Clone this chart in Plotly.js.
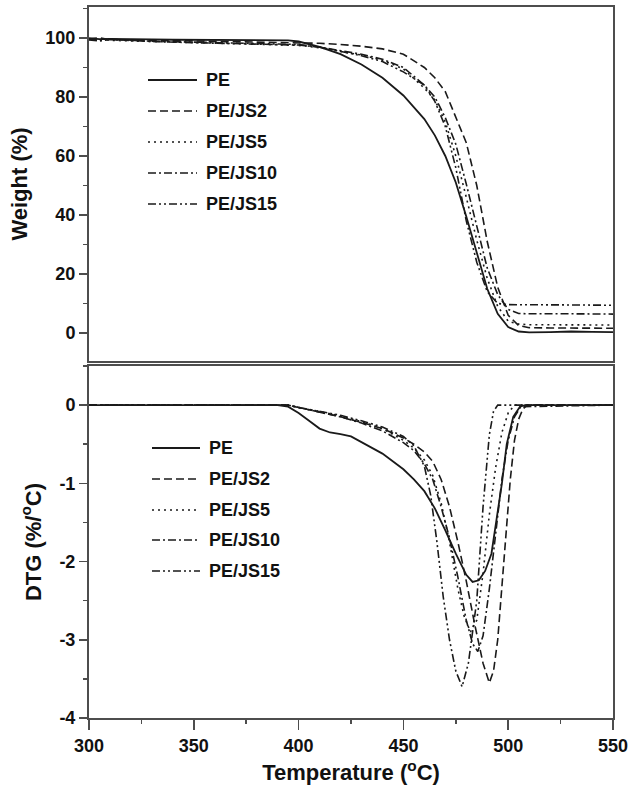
<!DOCTYPE html>
<html>
<head>
<meta charset="utf-8">
<script src="https://cdn.plot.ly/plotly-3.0.1.min.js"></script>
<style>html,body{margin:0;padding:0;background:#fff;}#chart{width:630px;height:789px;}</style>
</head>
<body>
<div id="chart"></div>
<script>
// ---------- DATA ----------
const seriesNames = ['PE', 'PE/JS2', 'PE/JS5', 'PE/JS10', 'PE/JS15'];

// TGA: temperature (°C) and weight (%)
const tgaT_PE   = [300,305,310,320,330,340,350,360,370,380,390,395,400,405,410,420,430,440,450,460,465,470,475,480,485,490,495,500,505,510,520,530,540,550];
const tgaW_PE   = [99.9,99.6,99.7,99.5,99.5,99.4,99.4,99.3,99.3,99.3,99.2,99.2,98.8,98.0,97.0,94.5,91.0,86.5,80.5,72.5,67.0,60.0,51.0,39.5,27.0,15.0,6.5,2.0,0.5,0.2,0.3,0.5,0.4,0.3];
const tgaT_JS2  = [300,305,310,320,330,350,370,390,400,410,420,430,440,450,460,465,470,475,480,485,490,495,500,505,510,520,535,550];
const tgaW_JS2  = [99.6,100.1,99.4,99.2,99.1,99.0,98.8,98.6,98.4,98.2,97.8,97.2,96.3,94.5,90.0,86.5,81.8,73.0,64.5,50.0,31.0,15.5,6.0,2.5,1.8,1.7,1.6,1.6];
const tgaT_JS5  = [300,305,310,320,330,350,370,390,400,410,420,430,440,450,460,465,470,475,480,485,490,495,500,505,510,530,550];
const tgaW_JS5  = [99.5,99.8,99.2,99.0,98.8,98.4,98.1,97.8,97.5,96.7,95.5,94.2,92.5,89.5,83.0,79.0,71.5,60.0,46.0,31.5,18.5,9.0,4.0,3.0,2.8,2.8,2.7];
const tgaT_JS10 = [300,305,310,320,330,350,370,390,400,410,420,430,440,450,460,465,470,475,480,485,490,495,500,505,510,530,550];
const tgaW_JS10 = [99.3,99.0,99.5,99.1,98.8,98.4,98.1,97.9,97.6,96.9,95.8,94.5,92.8,90.0,84.0,80.0,73.0,64.0,50.5,36.0,22.0,13.0,8.0,6.6,6.5,6.5,6.4];
const tgaT_JS15 = [300,305,310,320,330,350,370,390,400,410,420,430,440,450,460,465,470,475,480,485,490,495,500,510,530,550];
const tgaW_JS15 = [99.7,99.2,99.6,99.2,98.9,98.6,98.3,98.0,97.8,96.9,95.5,94.0,92.0,88.5,84.0,78.5,70.0,56.0,38.0,24.0,14.0,10.0,9.6,9.5,9.5,9.4];

// DTG: temperature (°C) and derivative weight (%/°C)
const dtgT_PE   = [300,390,395,400,405,410,415,420,425,430,440,450,455,460,465,470,475,480,483,486,489,492,494.5,497,499.3,502.4,505.6,508,550];
const dtgD_PE   = [0,0,-0.02,-0.1,-0.2,-0.3,-0.35,-0.37,-0.4,-0.47,-0.62,-0.82,-0.95,-1.1,-1.32,-1.6,-1.9,-2.17,-2.26,-2.24,-2.12,-1.9,-1.47,-1.0,-0.5,-0.15,-0.02,0,0];
const dtgT_JS2  = [300,395,400,410,420,430,440,450,455,460,464,468,472,476,480,484,488,491,493,495,497,499,501,503,505,507,509,550];
const dtgD_JS2  = [0,0,-0.03,-0.09,-0.15,-0.22,-0.3,-0.42,-0.5,-0.6,-0.72,-0.95,-1.3,-1.75,-2.25,-2.8,-3.3,-3.55,-3.4,-3.0,-2.3,-1.6,-0.95,-0.45,-0.18,-0.05,0,0];
const dtgT_JS5  = [300,395,400,410,420,430,440,450,455,460,464,468,472,476,479,482,485,488,491,494,497,500,503,550];
const dtgD_JS5  = [0,0,-0.03,-0.08,-0.14,-0.21,-0.3,-0.45,-0.55,-0.7,-0.9,-1.25,-1.75,-2.35,-2.7,-2.9,-2.75,-2.15,-1.4,-0.8,-0.35,-0.1,0,0];
const dtgT_JS10 = [300,395,400,410,420,430,440,450,455,460,464,468,472,476,480,483,485.5,488,491,494,497,500,503,506,550];
const dtgD_JS10 = [0,0,-0.03,-0.09,-0.15,-0.23,-0.33,-0.48,-0.58,-0.75,-0.95,-1.3,-1.7,-2.2,-2.75,-3.05,-3.15,-2.95,-2.35,-1.65,-0.95,-0.45,-0.15,-0.02,0];
const dtgT_JS15 = [300,395,400,410,420,430,440,450,455,460,463,466,469,472,475,478,481,485,488,491,493,495,550];
const dtgD_JS15 = [0,0,-0.03,-0.08,-0.13,-0.2,-0.28,-0.4,-0.52,-0.78,-1.15,-1.75,-2.45,-3.0,-3.4,-3.6,-3.3,-2.5,-1.3,-0.38,-0.08,0,0];

// tick labels (hyphen minus as in the original figure)
const weightTicks = [0, 20, 40, 60, 80, 100];
const weightTickText = ['0', '20', '40', '60', '80', '100'];
const dtgTicks = [-4, -3, -2, -1, 0];
const dtgTickText = ['-4', '-3', '-2', '-1', '0'];
const tempTicks = [300, 350, 400, 450, 500, 550];
const tempTickText = ['300', '350', '400', '450', '500', '550'];

// ---------- STYLE ----------
const lineColor = '#1a1a1a';
const dashes = ['solid', '8px,4px', '2px,4px', '8px,3px,2px,3px', '8px,3px,2px,3px,2px,3px'];
const widths = [1.8, 1.6, 1.6, 1.6, 1.6];
const FONT = 'Liberation Sans, Arial, Helvetica, sans-serif';
const frame = '#4d4d4d';

const tgaX = [tgaT_PE, tgaT_JS2, tgaT_JS5, tgaT_JS10, tgaT_JS15];
const tgaY = [tgaW_PE, tgaW_JS2, tgaW_JS5, tgaW_JS10, tgaW_JS15];
const dtgX = [dtgT_PE, dtgT_JS2, dtgT_JS5, dtgT_JS10, dtgT_JS15];
const dtgY = [dtgD_PE, dtgD_JS2, dtgD_JS5, dtgD_JS10, dtgD_JS15];

const traces = [];
seriesNames.forEach((n, i) => {
  traces.push({x: tgaX[i], y: tgaY[i], name: n, type: 'scatter', mode: 'lines', xaxis: 'x2', yaxis: 'y',
    line: {color: lineColor, width: widths[i], dash: dashes[i]}, showlegend: false, hoverinfo: 'skip'});
});
seriesNames.forEach((n, i) => {
  traces.push({x: dtgX[i], y: dtgY[i], name: n, type: 'scatter', mode: 'lines', xaxis: 'x', yaxis: 'y2',
    line: {color: lineColor, width: widths[i], dash: dashes[i]}, showlegend: false, hoverinfo: 'skip'});
});

// pixel -> paper helpers (plot area spans x 89..613, y 7..718)
const PL = 89, PR = 613, PT = 7, PB = 718;
const fx = p => (p - PL) / (PR - PL);
const fy = p => (PB - p) / (PB - PT);

// manual legends (one per panel)
const shapes = [], annotations = [];
function addLegend(rows, x0, x1, xt) {
  rows.forEach((yy, i) => {
    shapes.push({type: 'line', xref: 'paper', yref: 'paper', x0: fx(x0), x1: fx(x1), y0: fy(yy), y1: fy(yy),
      line: {color: lineColor, width: widths[i], dash: dashes[i]}});
    annotations.push({xref: 'paper', yref: 'paper', x: fx(xt), y: fy(yy), xanchor: 'left', yanchor: 'middle',
      text: seriesNames[i], showarrow: false, font: {family: FONT, size: 18, color: '#111', weight: 700}});
  });
}
addLegend([80, 111, 142, 173, 204], 148, 197, 204);
addLegend([448, 479, 510, 540, 571], 152, 200, 207);

const tickFont = {family: FONT, size: 18, color: '#111', weight: 700};
const titleFont = {family: FONT, size: 22, color: '#111', weight: 700};
const splitTop = fy(361), splitBot = fy(366);

const layout = {
  width: 630, height: 789,
  margin: {l: PL, r: 630 - PR, t: PT, b: 789 - PB, pad: 0},
  paper_bgcolor: '#fff', plot_bgcolor: '#fff',
  showlegend: false,
  font: {family: FONT, color: '#111'},
  xaxis: {domain: [0, 1], anchor: 'y2', range: [300, 550], tickmode: 'array', tickvals: tempTicks, ticktext: tempTickText,
    ticks: 'outside', ticklen: 10, tickwidth: 1.5, tickcolor: frame,
    showline: true, linecolor: frame, linewidth: 2, mirror: true,
    showgrid: false, zeroline: false, tickfont: tickFont,
    minor: {dtick: 25, tick0: 300, ticks: 'outside', ticklen: 4, tickwidth: 1.5, tickcolor: frame, showgrid: false},
    title: {text: 'Temperature (<sup>o</sup>C)', font: titleFont, standoff: 10}},
  xaxis2: {domain: [0, 1], anchor: 'y', matches: 'x', range: [300, 550], showticklabels: false, ticks: '',
    showline: true, linecolor: frame, linewidth: 2, mirror: true, showgrid: false, zeroline: false},
  yaxis: {domain: [splitTop, 1], anchor: 'x2', range: [-9.5, 110.5], tickmode: 'array', tickvals: weightTicks, ticktext: weightTickText,
    ticks: 'outside', ticklen: 8, tickwidth: 1.5, tickcolor: frame,
    showline: true, linecolor: frame, linewidth: 2, mirror: true,
    showgrid: false, zeroline: false, tickfont: tickFont,
    minor: {dtick: 10, tick0: 0, ticks: 'outside', ticklen: 4, tickwidth: 1.5, tickcolor: frame, showgrid: false},
    title: {text: 'Weight (%)', font: titleFont, standoff: 12}},
  yaxis2: {domain: [0, splitBot], anchor: 'x', range: [-4, 0.5], tickmode: 'array', tickvals: dtgTicks, ticktext: dtgTickText,
    ticks: 'outside', ticklen: 8, tickwidth: 1.5, tickcolor: frame,
    showline: true, linecolor: frame, linewidth: 2, mirror: true,
    showgrid: false, zeroline: false, tickfont: tickFont,
    minor: {dtick: 0.5, tick0: 0, ticks: 'outside', ticklen: 4, tickwidth: 1.5, tickcolor: frame, showgrid: false},
    title: {text: 'DTG (%/<sup>o</sup>C)', font: titleFont, standoff: 12}},
  shapes: shapes,
  annotations: annotations
};

Plotly.newPlot('chart', traces, layout, {staticPlot: true, displayModeBar: false});
</script>
</body>
</html>
